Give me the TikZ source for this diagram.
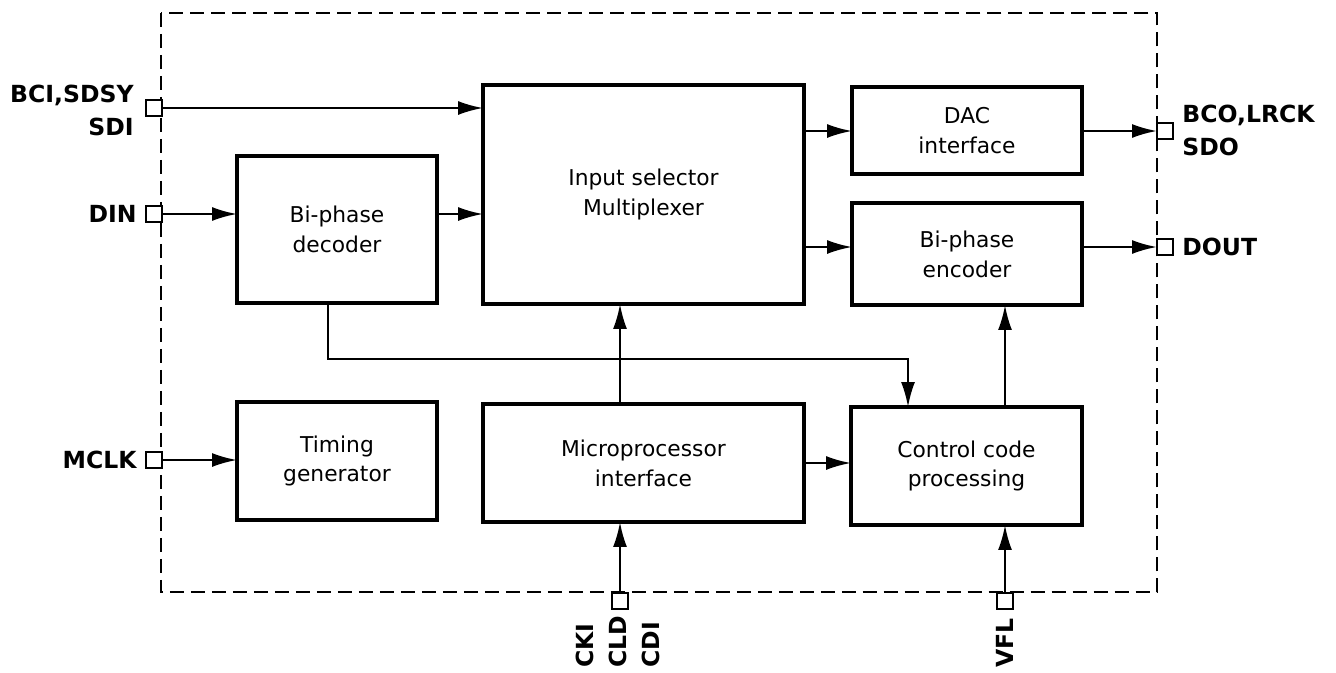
\documentclass[tikz,border=0pt]{standalone}
\usepackage{fontspec}
\setmainfont{DejaVu Sans}
\usetikzlibrary{arrows.meta}

\begin{document}
\begin{tikzpicture}[
  x=0.02cm, y=-0.02cm,
  block/.style={draw, line width=1.9pt, inner sep=0pt, outer sep=0pt, align=center,
    font=\fontsize{12.4}{17}\selectfont},
  pin/.style={draw, fill=white, line width=1.3pt, minimum size=0.32cm, inner sep=0pt, outer sep=0pt},
  pinlabel/.style={inner sep=0pt, font=\bfseries\fontsize{13.4}{18.8}\selectfont},
  wire/.style={line width=1.3pt, -{Latex[length=5mm,width=2.8mm]}},
  chip/.style={line width=1.5pt, dash pattern=on 0.28cm off 0.14cm}
]
\useasboundingbox (0,0) rectangle (1336,673);
% Chip outline
\draw[chip] (161,13) rectangle (1157,592);

% Blocks
\node[block, minimum width=4cm, minimum height=2.94cm] (dec) at (337,229.5) {Bi-phase\\decoder};
\node[block, minimum width=6.42cm, minimum height=4.38cm] (mux) at (643.5,194.5) {Input selector\\Multiplexer};
\node[block, minimum width=4.6cm, minimum height=1.74cm] (dac) at (967,130.5) {DAC\\interface};
\node[block, minimum width=4.6cm, minimum height=2.04cm] (enc) at (967,254) {Bi-phase\\encoder};
\node[block, minimum width=4cm, minimum height=2.36cm] (tim) at (337,461) {Timing\\generator};
\node[block, minimum width=6.42cm, minimum height=2.36cm] (mic) at (643.5,463) {Microprocessor\\interface};
\node[block, minimum width=4.62cm, minimum height=2.36cm] (ctl) at (966.5,466) {Control code\\processing};

% Pins
\node[pin] (pbci) at (154,108) {};
\node[pin] (pdin) at (154,214) {};
\node[pin] (pmclk) at (154,460) {};
\node[pin] (pbco) at (1165,131) {};
\node[pin] (pdout) at (1165,247) {};
\node[pin] (pcki) at (620,601) {};
\node[pin] (pvfl) at (1005,601) {};

% Pin labels
\node[pinlabel, anchor=east, align=right] (lbci) at (134,110) {BCI,SDSY\\SDI};
\node[pinlabel, anchor=east] (ldin) at (137,214) {DIN};
\node[pinlabel, anchor=east] (lmclk) at (137,460) {MCLK};
\node[pinlabel, anchor=west, align=left] (lbco) at (1182,130) {BCO,LRCK\\SDO};
\node[pinlabel, anchor=west] (ldout) at (1182,247) {DOUT};
\node[pinlabel, rotate=90, anchor=west, align=left] (lcki) at (618,668) {CKI\\CLD\\CDI};
\node[pinlabel, rotate=90, anchor=west] (lvfl) at (1005,668) {VFL};

% Signal paths
\draw[wire] (pbci.east) -- (pbci.east -| mux.west);
\draw[wire] (pdin.east) -- (pdin.east -| dec.west);
\draw[wire] (pdin -| dec.east) -- (pdin -| mux.west);
\draw[wire] (pbco -| mux.east) -- (pbco -| dac.west);
\draw[wire] (pbco -| dac.east) -- (pbco.west);
\draw[wire] (pdout -| mux.east) -- (pdout -| enc.west);
\draw[wire] (pdout -| enc.east) -- (pdout.west);
\draw[wire] (pmclk.east) -- (pmclk -| tim.west);
\draw[wire] (mic.east) -- (mic.east -| ctl.west);
\draw[wire] (pcki.north) -- (pcki |- mic.south);
\draw[wire] (pcki |- mic.north) -- (pcki |- mux.south);
\draw[wire] (pvfl.north) -- (pvfl |- ctl.south);
\draw[wire] (pvfl |- ctl.north) -- (pvfl |- enc.south);
% Decoder to control code
\coordinate (tap) at (328,359);
\coordinate (drop) at (908,359);
\draw[wire] (tap |- dec.south) -- (tap) -- (drop) -- (drop |- ctl.north);
\end{tikzpicture}
\end{document}
